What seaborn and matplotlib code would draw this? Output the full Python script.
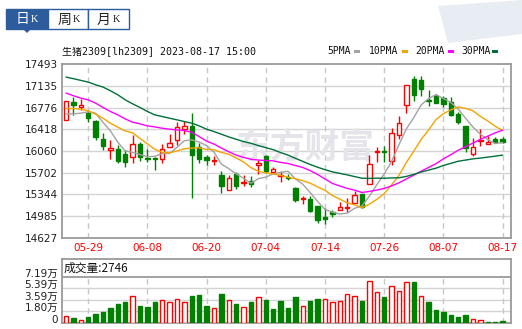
import numpy as np
import pandas as pd
import matplotlib
matplotlib.use("Agg")
import matplotlib.pyplot as plt
from matplotlib.patches import Rectangle, Polygon
from matplotlib.transforms import ScaledTranslation
import seaborn as sns

# ---------------- data ----------------
dates = ["05-24", "05-25", "05-26", "05-29", "05-30", "05-31", "06-01", "06-02",
         "06-05", "06-06", "06-07", "06-08", "06-09", "06-12", "06-13", "06-14",
         "06-15", "06-16", "06-19", "06-20", "06-21", "06-26", "06-27", "06-28",
         "06-29", "06-30", "07-03", "07-04", "07-05", "07-06", "07-07", "07-10",
         "07-11", "07-12", "07-13", "07-14", "07-17", "07-18", "07-19", "07-20",
         "07-21", "07-24", "07-25", "07-26", "07-27", "07-28", "07-31", "08-01",
         "08-02", "08-03", "08-04", "08-07", "08-08", "08-09", "08-10", "08-11",
         "08-14", "08-15", "08-16", "08-17"]

open_p = [16573, 16859, 16788, 16694, 16562, 16264, 16071, 16093, 16011, 15961,
          16182, 15950, 15945, 15928, 16127, 16237, 16424, 16479, 16127, 15956,
          15901, 15664, 15416, 15686, 15531, 15570, 15824, 15983, 15708, 15653,
          15636, 15454, 15267, 15262, 15157, 14969, 15052, 15085, 15129, 15201,
          15344, 15515, 16038, 16055, 15895, 16325, 16821, 17251, 17223, 16898,
          16959, 16931, 16859, 16666, 16479, 16011, 16226, 16182, 16259, 16259]
high_p = [16890, 16942, 16914, 16738, 16565, 16363, 16248, 16160, 16071, 16319,
          16215, 16093, 15956, 16176, 16341, 16540, 16556, 16683, 16193, 15999,
          15978, 15724, 15658, 15719, 15664, 15653, 15906, 15990, 15796, 15724,
          15675, 15460, 15317, 15317, 15160, 15113, 15085, 15223, 15278, 15399,
          15344, 15994, 16132, 16143, 16435, 16633, 17155, 17289, 17289, 17069,
          16997, 16970, 16942, 16700, 16480, 16270, 16424, 16314, 16297, 16292]
low_p = [16570, 16656, 16733, 16534, 16237, 16071, 15923, 15857, 15790, 15857,
         15895, 15873, 15741, 15857, 16127, 16160, 16336, 15278, 15868, 15824,
         15829, 15361, 15410, 15432, 15487, 15465, 15675, 15691, 15675, 15543,
         15576, 15223, 15184, 15057, 14870, 14859, 14975, 15085, 15057, 15201,
         15113, 15510, 15884, 15884, 15829, 16259, 16683, 16887, 16970, 16804,
         16848, 16777, 16633, 16501, 16049, 15983, 16143, 16182, 16187, 16198]
close_p = [16887, 16815, 16821, 16600, 16286, 16138, 16110, 15890, 15879, 16176,
           15955, 15928, 15928, 16093, 16198, 16457, 16474, 15989, 15923, 15906,
           15917, 15487, 15614, 15487, 15548, 15509, 15868, 15735, 15757, 15664,
           15609, 15245, 15289, 15074, 14931, 14947, 15024, 15135, 15140, 15333,
           15135, 15846, 16055, 16038, 16358, 16523, 17151, 16986, 17080, 16881,
           16848, 16832, 16656, 16545, 16116, 16127, 16237, 16215, 16215, 16204]

# moving-average values before each window is filled
ma5_head = [16672, 16672, 16683, 16705]
ma10_head = [16760, 16760, 16749, 16722, 16667, 16600, 16518, 16452, 16391]
ma20_head = [17014, 16970, 16931, 16903, 16848, 16777, 16711, 16655, 16589, 16534,
             16507, 16474, 16457, 16435, 16419, 16408, 16397, 16369, 16297]
ma30_head = [17278, 17251, 17223, 17195, 17151, 17113, 17052, 16986, 16903, 16837,
             16777, 16711, 16655, 16628, 16600, 16573, 16545, 16518, 16474, 16419,
             16380, 16336, 16292, 16253, 16215, 16187, 16149, 16115, 16082]

# volume in 万 (10k lots) and its colour flag (True = red)
volume_wan = [1.04, 0.83, 0.52, 0.89, 1.35, 1.67, 2.40, 3.00, 3.20, 4.27,
              2.70, 2.55, 3.20, 3.50, 3.20, 3.80, 3.20, 4.17, 4.30, 2.60,
              2.40, 4.48, 3.50, 2.90, 2.55, 3.30, 4.00, 3.54, 2.14, 3.39,
              2.29, 4.00, 2.60, 3.39, 3.70, 3.80, 3.20, 3.39, 4.48, 4.27,
              3.39, 6.46, 4.80, 4.00, 5.68, 4.90, 6.30, 6.36, 4.27, 3.23,
              1.98, 1.67, 1.20, 0.89, 1.20, 0.68, 0.52, 0.22, 0.22, 0.2746]
volume_up = [1, 0, 1, 0, 0, 0, 0, 0, 0, 1, 0, 0, 0, 1, 1, 1, 1, 0, 0, 0,
             1, 0, 1, 0, 1, 0, 1, 0, 0, 0, 0, 0, 1, 0, 0, 1, 1, 1, 1, 1,
             0, 1, 1, 0, 1, 1, 1, 0, 1, 0, 0, 0, 0, 0, 0, 1, 1, 0, 0, 0]

price_ticks = [14627, 14985, 15344, 15702, 16060, 16418, 16776, 17135, 17493]
vol_ticks = [0, 1.80, 3.59, 5.39, 7.19]
vol_tick_labels = ["0", "1.80万", "3.59万", "5.39万", "7.19万"]
title_text = "生猪2309[lh2309] 2023-08-17 15:00"
vol_header = "成交量:2746"
ma_names = ["5PMA", "10PMA", "20PMA", "30PMA"]
ma_windows = [5, 10, 20, 30]
ma_colors = ["#a3a3a3", "#f5a300", "#ff00ff", "#00703a"]
tab_labels = ["日", "周", "月"]

# ---------------- style ----------------
sns.set_style("white")
plt.rcParams["font.family"] = ["DejaVu Sans", "Noto Sans CJK SC"]
plt.rcParams["axes.unicode_minus"] = False

RED = "#ff0000"
GREEN = "#008000"
GRID = "#d4d4d4"
BORDER = "#9a9a9a"

W, H = 522, 329
def fx(x):
    return x / W
def fy(y):
    return 1 - y / H

fig = plt.figure(figsize=(W / 100, H / 100), dpi=100)
fig.patch.set_facecolor("white")

n = len(close_p)
idx = np.arange(n)
o = np.array(open_p, float)
c = np.array(close_p, float)
h = np.array(high_p, float)
l = np.array(low_p, float)
up = c >= o
tick_idx = [i for i, d in enumerate(dates) if i % 8 == 3]
tick_lab = [dates[i] for i in tick_idx]
xlim = (-0.54, 60.14)

# ---------------- main price axes ----------------
ax = fig.add_axes([fx(62), fy(238), 449 / W, 174 / H])
ax.set_xlim(*xlim)
ax.set_ylim(price_ticks[0], price_ticks[-1])
for yv in price_ticks[1:-1]:
    ax.axhline(yv, color=GRID, lw=1, zorder=0.5)
for xi in tick_idx:
    ax.axvline(xi, color="#c8c8c8", lw=1, ls=(0, (4, 3)), zorder=0.5)

ax.text((236 - 62) / 449, (238 - 147) / 174, "东方财富", transform=ax.transAxes,
        fontsize=25, fontweight="bold", color="#e4e4ea", ha="left", va="center",
        family=["Noto Sans CJK SC"], zorder=0.6)

bw = 0.58
# wicks
ax.vlines(idx[~up], l[~up], h[~up], color=GREEN, lw=1, zorder=3)
ax.vlines(idx[up], l[up], o[up], color=RED, lw=1, zorder=3)
ax.vlines(idx[up], c[up], h[up], color=RED, lw=1, zorder=3)
# bodies
ax.bar(idx[~up], np.maximum(o[~up] - c[~up], 4), bottom=c[~up], width=bw,
       facecolor=GREEN, edgecolor=GREEN, lw=1, zorder=3.5)
ax.bar(idx[up], np.maximum(c[up] - o[up], 4), bottom=o[up], width=bw,
       facecolor="white", edgecolor=RED, lw=1, zorder=3.5)

close_s = pd.Series(c)
heads = [ma5_head, ma10_head, ma20_head, ma30_head]
ma_df = pd.DataFrame({"i": idx})
for name, win, head in zip(ma_names, ma_windows, heads):
    m = close_s.rolling(win).mean()
    m.iloc[:win - 1] = head
    ma_df[name] = m.values
for name, col in zip(ma_names, ma_colors):
    sns.lineplot(data=ma_df, x="i", y=name, color=col, lw=1, ax=ax, zorder=4)

ax.set_xlabel("")
ax.set_ylabel("")
ax.set_yticks(price_ticks)
ax.set_yticklabels([str(v) for v in price_ticks], fontsize=7.5, color="#1e1e1e")
ax.set_xticks(tick_idx)
ax.set_xticklabels(tick_lab, fontsize=7.5, color=RED)
ax.tick_params(axis="both", length=0)
ax.tick_params(axis="y", pad=3)
ax.tick_params(axis="x", pad=3.5)
for s in ax.spines.values():
    s.set_color(BORDER)
    s.set_linewidth(1.3)

# ---------------- volume axes ----------------
axv = fig.add_axes([fx(62), fy(323), 449 / W, 64 / H])
axv.set_xlim(*xlim)
vtop = 7.19 / ((323 - 276.7) / 64)
axv.set_ylim(0, vtop)
vol = np.array(volume_wan)
vup = np.array(volume_up, bool)
for yv in vol_ticks[1:-1]:
    axv.axhline(yv, color=GRID, lw=1, zorder=0.5)
axv.vlines(tick_idx, 0, 7.19, color="#c8c8c8", lw=1, ls=(0, (4, 3)), zorder=0.5)
axv.axhline(7.19, color=BORDER, lw=1.3, zorder=1)
axv.bar(idx[~vup], vol[~vup], width=bw, facecolor=GREEN, edgecolor=GREEN, lw=1, zorder=3)
axv.bar(idx[vup], vol[vup], width=bw, facecolor="white", edgecolor=RED, lw=1, zorder=3)
axv.set_yticks(vol_ticks)
axv.set_yticklabels(vol_tick_labels, fontsize=7.5, color="#1e1e1e")
axv.set_xticks([])
axv.tick_params(axis="y", length=0, pad=3)
shift = ScaledTranslation(0, 3 / 72, fig.dpi_scale_trans)
for lab in axv.get_yticklabels():
    lab.set_transform(lab.get_transform() + shift)
for s in axv.spines.values():
    s.set_color(BORDER)
    s.set_linewidth(1.3)
axv.text(2 / 449, (vtop - 0.5 * (vtop - 7.19)) / vtop, vol_header, transform=axv.transAxes,
         fontsize=8.5, color="#111111", ha="left", va="center",
         family=["Noto Sans CJK SC", "DejaVu Sans"])

# ---------------- header texts ----------------
mono = ["DejaVu Sans Mono", "Noto Sans CJK SC"]
fig.text(fx(62), fy(51.5), title_text, fontsize=7.2, color="#111111",
         ha="left", va="center", family=mono)
leg_x = [327.5, 369, 415, 461]
leg_mx = [354, 402, 448, 492]
for name, col, tx, mx in zip(ma_names, ma_colors, leg_x, leg_mx):
    fig.text(fx(tx), fy(51.5), name, fontsize=7.0, color="#111111",
             ha="left", va="center", family=mono)
    fig.patches.append(Rectangle((fx(mx), fy(53)), 6 / W, 3 / H,
                                 transform=fig.transFigure, facecolor=col,
                                 edgecolor="none"))

# faint blurred logo area top-right
fig.patches.append(Polygon([(fx(438), fy(6)), (fx(522), fy(0)), (fx(522), fy(34)),
                            (fx(448), fy(43))], closed=True, transform=fig.transFigure,
                           facecolor="#e3e9f1", edgecolor="none", alpha=0.8))

# ---------------- tabs ----------------
TAB = "#2d5c9c"
tab_x = [(6, 48), (48, 88), (88, 129)]
for k, ((x0, x1), lab) in enumerate(zip(tab_x, tab_labels)):
    sel = k == 0
    fig.patches.append(Rectangle((fx(x0), fy(29)), (x1 - x0) / W, 20 / H,
                                 transform=fig.transFigure,
                                 facecolor=TAB if sel else "white",
                                 edgecolor=TAB, lw=1))
    colr = "white" if sel else "#222222"
    fig.text(fx(x0 + 16), fy(19.5), lab, fontsize=10, color=colr, ha="center",
             va="center", family=["Noto Sans CJK SC"])
    fig.text(fx(x0 + 28), fy(19.5), "K", fontsize=7.5, color=colr, ha="center",
             va="center", family=["Liberation Serif"])
fig.patches.append(Polygon([(fx(23), fy(29)), (fx(31), fy(29)), (fx(27), fy(33))],
                           closed=True, transform=fig.transFigure,
                           facecolor=TAB, edgecolor="none"))

fig.savefig("out.png", dpi=100, facecolor="white")
